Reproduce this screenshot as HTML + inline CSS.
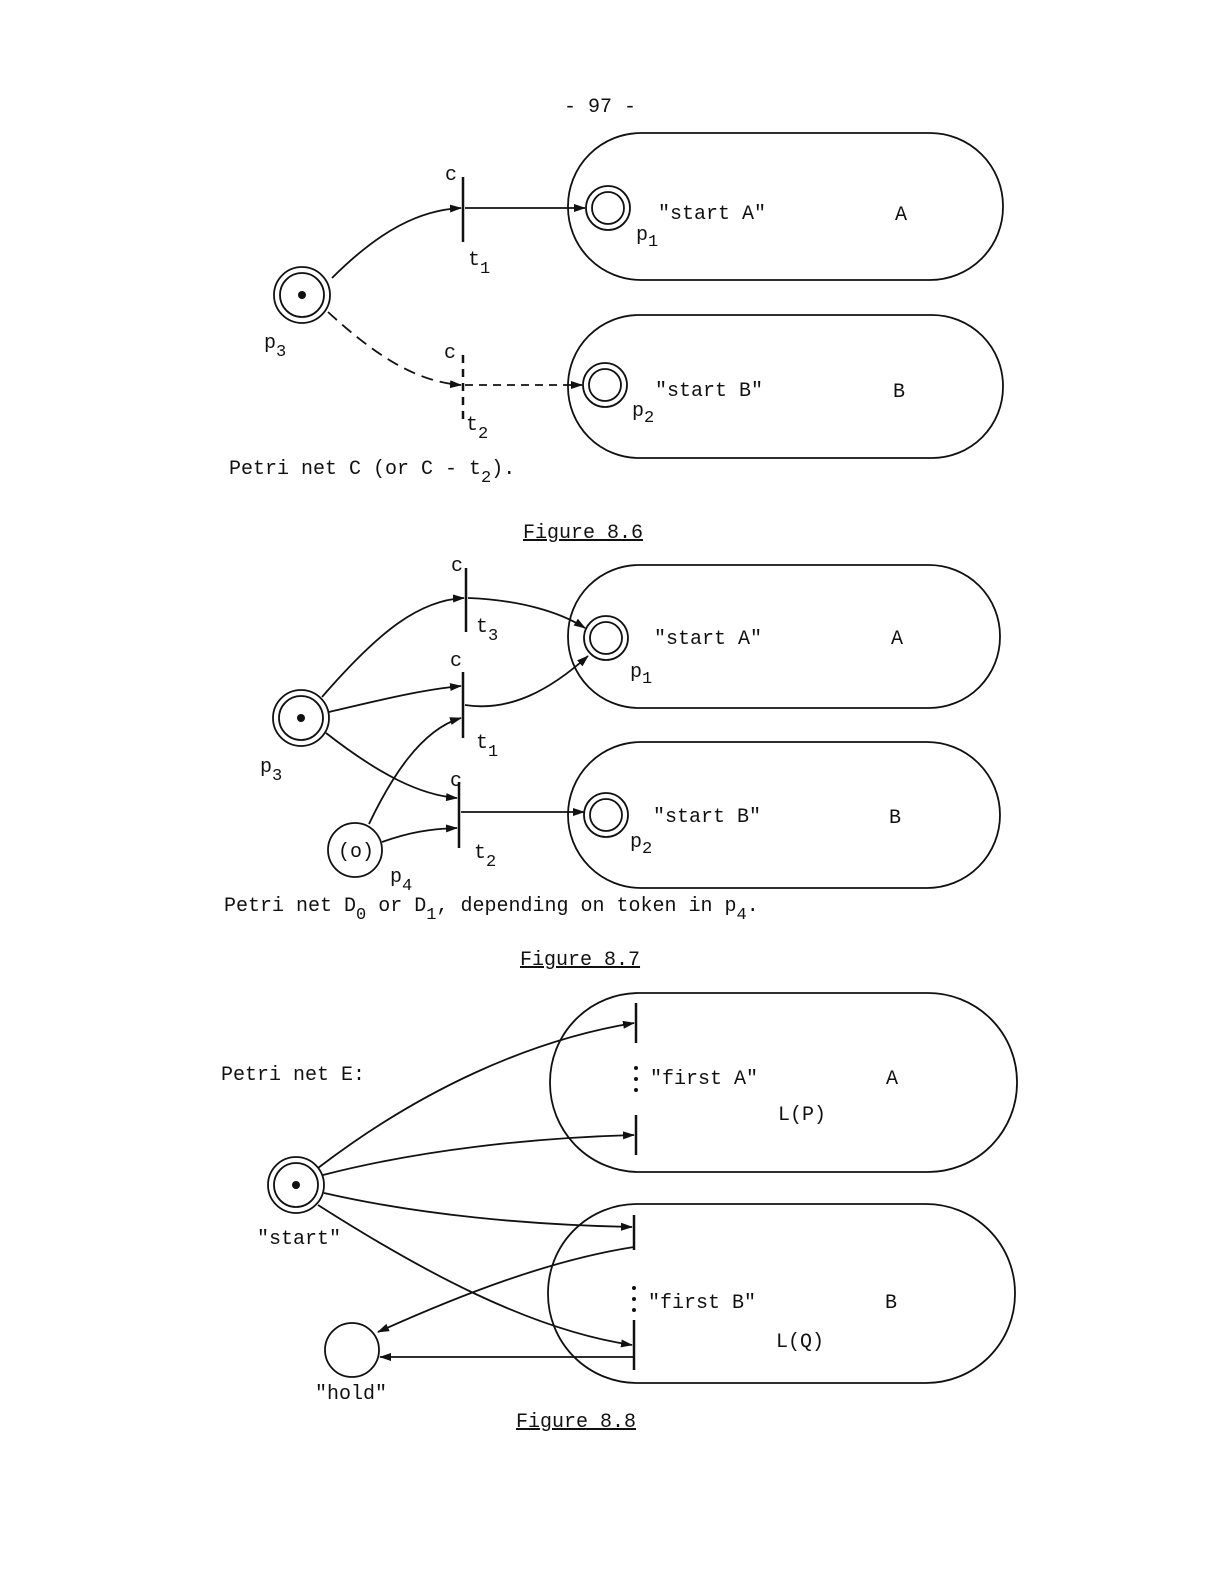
<!DOCTYPE html>
<html><head><meta charset="utf-8"><style>
html,body{margin:0;padding:0;background:#fff;}
svg{display:block}
text{font-family:"Liberation Mono",monospace;font-size:20px;fill:#111}
</style></head><body>
<svg width="1205" height="1584" viewBox="0 0 1205 1584" xmlns="http://www.w3.org/2000/svg">
<defs><marker id="a" markerWidth="12" markerHeight="10" refX="11" refY="5" orient="auto" markerUnits="userSpaceOnUse"><path d="M0,1 L12,5 L0,9 Z" fill="#111"/></marker></defs>
<g fill="none" stroke="#111" stroke-width="1.8">
<rect x="568" y="133" width="435" height="147" rx="73"/>
<rect x="568" y="315" width="435" height="143" rx="71"/>
<circle cx="608" cy="208" r="22"/><circle cx="608" cy="208" r="16"/>
<circle cx="605" cy="385" r="22"/><circle cx="605" cy="385" r="16"/>
<circle cx="302" cy="295" r="28"/><circle cx="302" cy="295" r="22"/>
<line x1="463" y1="177" x2="463" y2="242" stroke-width="2.5"/>
<line x1="463" y1="355" x2="463" y2="420" stroke-width="2.5" stroke-dasharray="8,6"/>
<path d="M332,278 C380,230 420,210 461,208" marker-end="url(#a)"/>
<line x1="465" y1="208" x2="585" y2="208" marker-end="url(#a)"/>
<path d="M328,312 C380,360 420,382 461,385" stroke-dasharray="12,7" marker-end="url(#a)"/>
<line x1="465" y1="385" x2="582" y2="385" stroke-dasharray="8,6" marker-end="url(#a)"/>
<rect x="568" y="565" width="432" height="143" rx="71"/>
<rect x="568" y="742" width="432" height="146" rx="73"/>
<circle cx="606" cy="638" r="22"/><circle cx="606" cy="638" r="16"/>
<circle cx="606" cy="815" r="22"/><circle cx="606" cy="815" r="16"/>
<circle cx="301" cy="718" r="28"/><circle cx="301" cy="718" r="22"/>
<circle cx="355" cy="850" r="27"/>
<line x1="466" y1="568" x2="466" y2="632" stroke-width="2.5"/>
<line x1="463" y1="672" x2="463" y2="738" stroke-width="2.5"/>
<line x1="459" y1="782" x2="459" y2="848" stroke-width="2.5"/>
<path d="M322,697 C380,630 420,600 464,598" marker-end="url(#a)"/>
<path d="M468,598 C520,600 560,612 585,628" marker-end="url(#a)"/>
<path d="M329,712 C380,700 420,690 461,686" marker-end="url(#a)"/>
<path d="M465,705 C510,712 550,690 588,656" marker-end="url(#a)"/>
<path d="M326,733 C380,775 420,795 457,798" marker-end="url(#a)"/>
<path d="M369,824 C390,780 420,730 461,718" marker-end="url(#a)"/>
<path d="M382,842 C410,832 430,829 457,828" marker-end="url(#a)"/>
<line x1="461" y1="812" x2="584" y2="812" marker-end="url(#a)"/>
<rect x="550" y="993" width="467" height="179" rx="89"/>
<rect x="548" y="1204" width="467" height="179" rx="89"/>
<circle cx="296" cy="1185" r="28"/><circle cx="296" cy="1185" r="22"/>
<circle cx="352" cy="1350" r="27"/>
<line x1="636" y1="1003" x2="636" y2="1043" stroke-width="2.5"/>
<line x1="636" y1="1115" x2="636" y2="1155" stroke-width="2.5"/>
<line x1="634" y1="1215" x2="634" y2="1250" stroke-width="2.5"/>
<line x1="634" y1="1320" x2="634" y2="1370" stroke-width="2.5"/>
<path d="M318,1168 C420,1090 530,1040 634,1023" marker-end="url(#a)"/>
<path d="M323,1175 C420,1150 530,1138 634,1135" marker-end="url(#a)"/>
<path d="M324,1193 C420,1215 530,1225 632,1227" marker-end="url(#a)"/>
<path d="M318,1205 C420,1270 530,1330 632,1345" marker-end="url(#a)"/>
<path d="M634,1247 C550,1260 460,1295 378,1332" marker-end="url(#a)"/>
<line x1="634" y1="1357" x2="380" y2="1357" marker-end="url(#a)"/>
</g>
<g fill="#111">
<circle cx="302" cy="295" r="4"/><circle cx="301" cy="718" r="4"/><circle cx="296" cy="1185" r="4"/>
<circle cx="636" cy="1068" r="2"/><circle cx="636" cy="1079" r="2"/><circle cx="636" cy="1090" r="2"/>
<circle cx="634" cy="1288" r="2"/><circle cx="634" cy="1299" r="2"/><circle cx="634" cy="1310" r="2"/>
</g>
<text x="564" y="112">- 97 -</text>
<text x="445" y="180">c</text>
<text x="468" y="265">t<tspan font-size="17" dy="8">1</tspan></text>
<text x="658" y="219">"start A"</text>
<text x="636" y="240">p<tspan font-size="17" dy="6">1</tspan></text>
<text x="895" y="220" font-family="Liberation Serif" font-size="16">A</text>
<text x="264" y="348">p<tspan font-size="17" dy="8">3</tspan></text>
<text x="444" y="358">c</text>
<text x="466" y="430">t<tspan font-size="17" dy="8">2</tspan></text>
<text x="655" y="396">"start B"</text>
<text x="632" y="416">p<tspan font-size="17" dy="6">2</tspan></text>
<text x="893" y="397" font-family="Liberation Serif" font-size="16">B</text>
<text x="229" y="474">Petri net C  (or  C - t<tspan font-size="17" dy="8">2</tspan><tspan dy="-8">).</tspan></text>
<text x="523" y="538" text-decoration="underline">Figure 8.6</text>
<text x="451" y="571">c</text>
<text x="476" y="632">t<tspan font-size="17" dy="8">3</tspan></text>
<text x="450" y="666">c</text>
<text x="476" y="748">t<tspan font-size="17" dy="8">1</tspan></text>
<text x="450" y="786">c</text>
<text x="474" y="858">t<tspan font-size="17" dy="8">2</tspan></text>
<text x="654" y="644">"start A"</text>
<text x="630" y="677">p<tspan font-size="17" dy="6">1</tspan></text>
<text x="891" y="644" font-family="Liberation Serif" font-size="16">A</text>
<text x="653" y="822">"start B"</text>
<text x="630" y="847">p<tspan font-size="17" dy="6">2</tspan></text>
<text x="889" y="823" font-family="Liberation Serif" font-size="16">B</text>
<text x="260" y="772">p<tspan font-size="17" dy="8">3</tspan></text>
<text x="338" y="857">(o)</text>
<text x="390" y="882">p<tspan font-size="17" dy="8">4</tspan></text>
<text x="224" y="911">Petri net D<tspan font-size="17" dy="8">0</tspan><tspan dy="-8"> or D</tspan><tspan font-size="17" dy="8">1</tspan><tspan dy="-8">, depending on token in p</tspan><tspan font-size="17" dy="8">4</tspan><tspan dy="-8">.</tspan></text>
<text x="520" y="965" text-decoration="underline">Figure 8.7</text>
<text x="221" y="1080">Petri net E:</text>
<text x="650" y="1084">"first A"</text>
<text x="886" y="1084" font-family="Liberation Serif" font-size="16">A</text>
<text x="778" y="1120">L(P)</text>
<text x="648" y="1308">"first B"</text>
<text x="885" y="1308" font-family="Liberation Serif" font-size="16">B</text>
<text x="776" y="1347">L(Q)</text>
<text x="257" y="1244">"start"</text>
<text x="315" y="1399">"hold"</text>
<text x="516" y="1427" text-decoration="underline">Figure 8.8</text>
</svg>
</body></html>
